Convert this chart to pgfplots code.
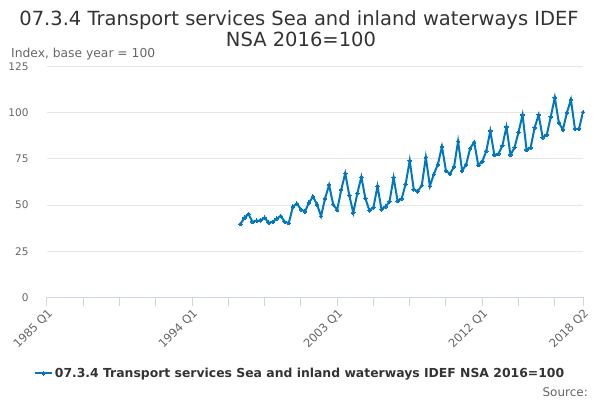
\documentclass[border=0pt]{standalone}
\usepackage{fontspec}
\setmainfont{DejaVu Sans}
\usepackage{pgfplots}
\pgfplotsset{compat=1.18}
\definecolor{series}{HTML}{0077C0}
\definecolor{axisc}{HTML}{CCD6EB}
\definecolor{gridc}{HTML}{E6E6E6}
\definecolor{labc}{HTML}{666666}
\definecolor{titc}{HTML}{333333}
\begin{document}
\begin{tikzpicture}[x=1pt,y=1pt]
\path (0,0) rectangle (600,400);
\node[font=\fontsize{19.5}{21}\selectfont, text=titc, anchor=base, inner sep=0pt] at (299,374) {07.3.4 Transport services Sea and inland waterways IDEF};
\node[font=\fontsize{19.5}{21}\selectfont, text=titc, anchor=base, inner sep=0pt] at (301,353.3) {NSA 2016=100};
\node[anchor=base west, inner sep=0pt, font=\fontsize{12.3}{14}\selectfont, text=labc] at (11,342.3) {Index, base year = 100};
\node[anchor=east, inner sep=0pt, font=\fontsize{12}{14}\selectfont, text=labc] at (588,8) {Source:};
\begin{axis}[
  at={(47pt,102.7pt)}, anchor=south west,
  scale only axis, width=536pt, height=230.6pt,
  xmin=1985, xmax=2018.25, ymin=0, ymax=125,
  axis lines*=left,
  axis line style={-},
  x axis line style={draw=axisc, line width=1pt},
  y axis line style={draw=none},
  xtick={1985,1994,2003,2012,2018.25},
  xticklabels={1985 Q1,1994 Q1,2003 Q1,2012 Q1,2018 Q2},
  minor xtick={1987.25,1989.5,1991.75,1996.25,1998.5,2000.75,2005.25,2007.5,2009.75,2014.25,2016.5},
  ytick={0,25,50,75,100,125},
  tick align=outside,
  major tick length=9pt,
  minor tick length=9pt,
  xtick style={draw=axisc, line width=1pt},
  minor x tick style={draw=axisc, line width=1pt},
  ytick style={draw=none},
  ymajorgrids,
  grid style={draw=gridc, line width=1pt},
  /pgf/number format/assume math mode=true,
  xticklabel style={rotate=45, anchor=north east, font=\fontsize{11.5}{13}\selectfont, text=labc, inner sep=1pt},
  yticklabel style={font=\fontsize{10.5}{13}\selectfont, text=labc, xshift=-6pt},
  legend style={at={(axis description cs:0.472,-0.33)}, anchor=center, draw=none, fill=none,
    font=\fontsize{12.4}{14}\selectfont\bfseries, text=titc},
  legend cell align=left,
]
\addplot[series, line width=2pt, mark=*, mark size=1.8pt, mark options={fill=series, draw=series, line width=0pt}] coordinates {
(1997.00,39.7) (1997.25,43.1) (1997.50,45.1) (1997.75,40.9)
(1998.00,41.5) (1998.25,41.7) (1998.50,43.1) (1998.75,40.4)
(1999.00,40.9) (1999.25,42.6) (1999.50,44.0) (1999.75,40.9)
(2000.00,40.2) (2000.25,49.1) (2000.50,50.7) (2000.75,47.7)
(2001.00,46.4) (2001.25,51.3) (2001.50,54.5) (2001.75,50.4)
(2002.00,44.0) (2002.25,53.6) (2002.50,60.9) (2002.75,50.4)
(2003.00,47.3) (2003.25,58.2) (2003.50,67.2) (2003.75,55.4)
(2004.00,45.8) (2004.25,56.3) (2004.50,65.2) (2004.75,53.6)
(2005.00,47.1) (2005.25,48.7) (2005.50,60.2) (2005.75,47.7)
(2006.00,49.1) (2006.25,52.0) (2006.50,64.9) (2006.75,52.2)
(2007.00,53.4) (2007.25,61.4) (2007.50,74.1) (2007.75,58.5)
(2008.00,57.4) (2008.25,60.7) (2008.50,75.9) (2008.75,60.3)
(2009.00,66.7) (2009.25,72.1) (2009.50,81.7) (2009.75,68.5)
(2010.00,67.0) (2010.25,70.7) (2010.50,84.6) (2010.75,68.6)
(2011.00,71.9) (2011.25,80.8) (2011.50,84.1) (2011.75,71.7)
(2012.00,73.6) (2012.25,79.3) (2012.50,90.2) (2012.75,77.2)
(2013.00,77.7) (2013.25,82.2) (2013.50,92.4) (2013.75,77.2)
(2014.00,81.1) (2014.25,89.5) (2014.50,98.9) (2014.75,79.9)
(2015.00,81.1) (2015.25,92.0) (2015.50,98.9) (2015.75,86.6)
(2016.00,88.0) (2016.25,97.8) (2016.50,108.3) (2016.75,94.7)
(2017.00,90.8) (2017.25,100.0) (2017.50,107.1) (2017.75,91.3)
(2018.00,91.3) (2018.25,100.4)
};
\addlegendentry{07.3.4 Transport services Sea and inland waterways IDEF NSA 2016=100}
\end{axis}
\end{tikzpicture}
\end{document}
